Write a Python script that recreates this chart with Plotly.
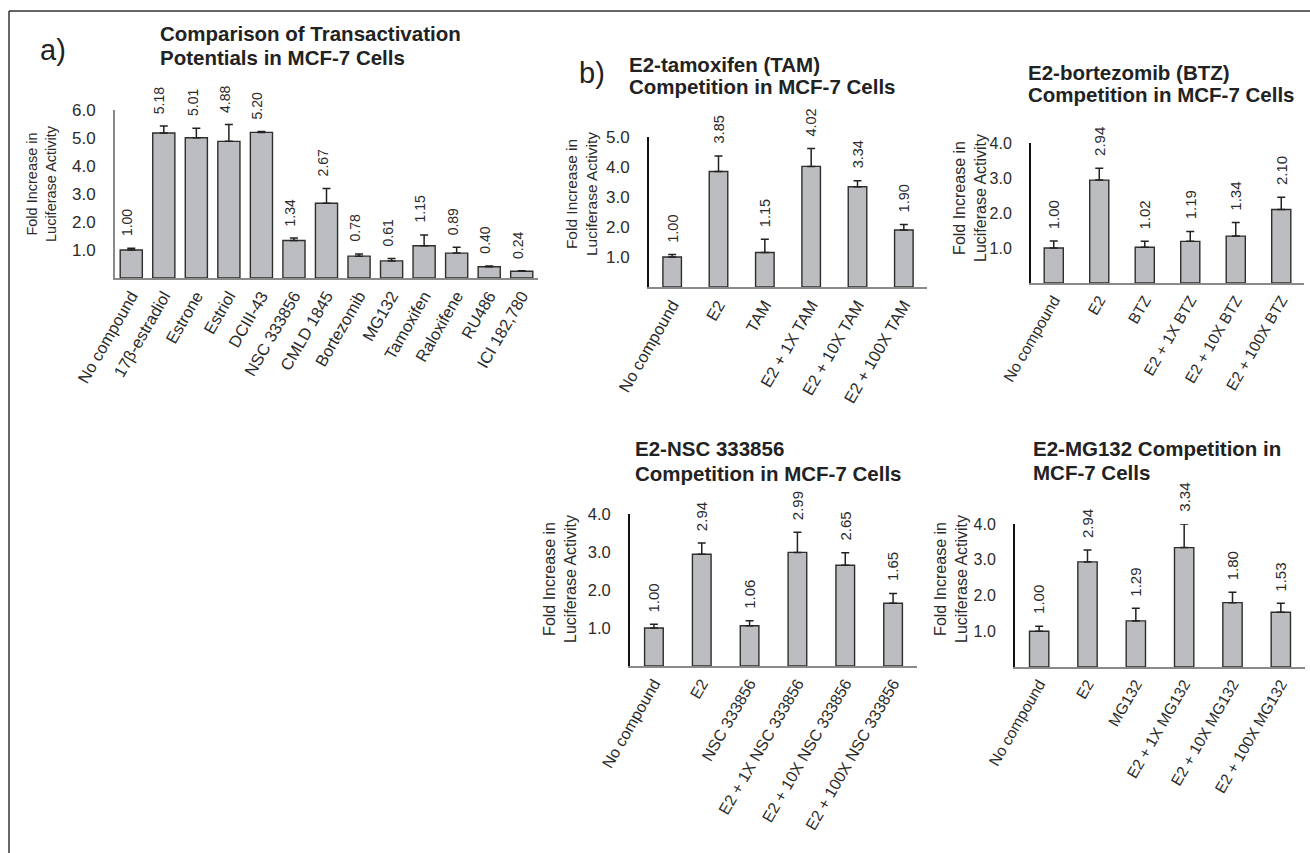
import plotly.graph_objects as go

W, H = 1310, 853
FONT = "Arial, Liberation Sans, Helvetica, sans-serif"
BAR_FILL = "#bcbdc0"
BAR_EDGE = "#2e2e2e"
TEXT = "#2b2b2b"

# ---- a) transactivation potentials ----
a_labels = ["No compound", "17β-estradiol", "Estrone", "Estriol", "DCIII-43",
            "NSC 333856", "CMLD 1845", "Bortezomib", "MG132", "Tamoxifen",
            "Raloxifene", "RU486", "ICI 182,780"]
a_values = [1.00, 5.18, 5.01, 4.88, 5.20, 1.34, 2.67, 0.78, 0.61, 1.15, 0.89, 0.40, 0.24]
a_errors = [0.06, 0.25, 0.34, 0.60, 0.03, 0.09, 0.53, 0.08, 0.09, 0.39, 0.21, 0.03, 0.02]

# ---- b) competition assays ----
tam_labels = ["No compound", "E2", "TAM", "E2 + 1X TAM", "E2 + 10X TAM", "E2 + 100X TAM"]
tam_values = [1.00, 3.85, 1.15, 4.02, 3.34, 1.90]
tam_errors = [0.08, 0.52, 0.44, 0.60, 0.20, 0.18]

btz_labels = ["No compound", "E2", "BTZ", "E2 + 1X BTZ", "E2 + 10X BTZ", "E2 + 100X BTZ"]
btz_values = [1.00, 2.94, 1.02, 1.19, 1.34, 2.10]
btz_errors = [0.20, 0.34, 0.17, 0.28, 0.39, 0.35]

nsc_labels = ["No compound", "E2", "NSC 333856", "E2 + 1X NSC 333856",
              "E2 + 10X NSC 333856", "E2 + 100X NSC 333856"]
nsc_values = [1.00, 2.94, 1.06, 2.99, 2.65, 1.65]
nsc_errors = [0.10, 0.30, 0.13, 0.53, 0.33, 0.26]

mg_labels = ["No compound", "E2", "MG132", "E2 + 1X MG132", "E2 + 10X MG132", "E2 + 100X MG132"]
mg_values = [1.00, 2.94, 1.29, 3.34, 1.80, 1.53]
mg_errors = [0.14, 0.33, 0.35, 0.66, 0.29, 0.25]


def px(x):
    return x / W


def py(y):
    return 1 - y / H


panels = [
    dict(labels=a_labels, values=a_values, errors=a_errors,
         xpx=(115, 538), ypx=(278, 110), ymax=6, width=0.68, yline="#8a8a8a",
         tick=17, val=14, val_dx=-4, ytitle=(42, 184), ytitle_size=14.5,
         title=["Comparison of Transactivation", "Potentials in MCF-7 Cells"],
         title_xy=(158, 34, 57)),
    dict(labels=tam_labels, values=tam_values, errors=tam_errors,
         xpx=(649, 927), ypx=(287, 137), ymax=5, width=0.40, yline="#111111",
         tick=17, val=14.5, val_dx=0, ytitle=(582, 194), ytitle_size=15.5,
         title=["E2-tamoxifen (TAM)", "Competition in MCF-7 Cells"],
         title_xy=(627, 64, 87)),
    dict(labels=btz_labels, values=btz_values, errors=btz_errors,
         xpx=(1031, 1304), ypx=(283, 143), ymax=4, width=0.42, yline="#111111",
         tick=16, val=15, val_dx=0, ytitle=(970, 198), ytitle_size=16,
         title=["E2-bortezomib (BTZ)", "Competition in MCF-7 Cells"],
         title_xy=(1026, 72, 95)),
    dict(labels=nsc_labels, values=nsc_values, errors=nsc_errors,
         xpx=(630, 917), ypx=(666, 514), ymax=4, width=0.39, yline="#111111",
         tick=16.5, val=15, val_dx=0, ytitle=(560, 579), ytitle_size=16,
         title=["E2-NSC 333856", "Competition in MCF-7 Cells"],
         title_xy=(633, 449, 473)),
    dict(labels=mg_labels, values=mg_values, errors=mg_errors,
         xpx=(1015, 1305), ypx=(667, 524), ymax=4, width=0.40, yline="#111111",
         tick=16, val=15, val_dx=0, ytitle=(951, 579), ytitle_size=16,
         title=["E2-MG132 Competition in", "MCF-7 Cells"],
         title_xy=(1031, 449, 472)),
]

fig = go.Figure()
annotations = []

for i, p in enumerate(panels):
    n = i + 1
    xa = "x" if n == 1 else f"x{n}"
    ya = "y" if n == 1 else f"y{n}"
    fig.add_trace(go.Bar(
        x=p["labels"], y=p["values"], xaxis=xa, yaxis=ya,
        width=p["width"],
        marker=dict(color=BAR_FILL, line=dict(color=BAR_EDGE, width=1.4)),
        error_y=dict(type="data", array=p["errors"], symmetric=False,
                     arrayminus=[0] * len(p["errors"]),
                     color="#222222", thickness=1.5, width=4),
        showlegend=False, hoverinfo="skip",
    ))
    ticks = list(range(1, p["ymax"] + 1))
    fig.layout[f"xaxis{'' if n == 1 else n}"] = dict(
        domain=[px(p["xpx"][0]), px(p["xpx"][1])], anchor=ya,
        type="category", range=[-0.5, len(p["labels"]) - 0.5],
        showline=True, linecolor="#8a8a8a", linewidth=2,
        showgrid=False, zeroline=False, ticks="", automargin=False,
        tickangle=-60, tickfont=dict(family=FONT, size=p["tick"] - 0.5, color=TEXT),
    )
    fig.layout[f"yaxis{'' if n == 1 else n}"] = dict(
        domain=[py(p["ypx"][0]), py(p["ypx"][1])], anchor=xa,
        range=[0, p["ymax"]], showline=True, linecolor=p["yline"], linewidth=2,
        showgrid=False, zeroline=False, ticks="", automargin=False,
        tickvals=ticks, ticktext=[f"{t:.1f}" for t in ticks],
        tickfont=dict(family=FONT, size=p["tick"], color=TEXT),
        ticklabelstandoff=14,
    )
    # value labels above each error bar
    for lab, v, e in zip(p["labels"], p["values"], p["errors"]):
        annotations.append(dict(
            x=lab, y=v + e, xref=xa, yref=ya, text=f"{v:.2f}", textangle=-90,
            xanchor="center", yanchor="bottom", yshift=10, xshift=p["val_dx"],
            showarrow=False, font=dict(family=FONT, size=p["val"], color=TEXT),
        ))
    # y-axis title
    annotations.append(dict(
        x=px(p["ytitle"][0]), y=py(p["ytitle"][1]), xref="paper", yref="paper",
        text="Fold Increase in<br>Luciferase Activity", textangle=-90,
        xanchor="center", yanchor="middle", showarrow=False,
        font=dict(family=FONT, size=p["ytitle_size"], color=TEXT),
    ))
    # panel heading, one annotation per line
    tx, ty1, ty2 = p["title_xy"]
    for line, ty in zip(p["title"], (ty1, ty2)):
        annotations.append(dict(
            x=px(tx), y=py(ty), xref="paper", yref="paper", text=f"<b>{line}</b>",
            xanchor="left", yanchor="middle", showarrow=False,
            font=dict(family=FONT, size=20.5, color="#222222"),
        ))

# panel letters
for letter, lx, ly in (("a)", 38, 50), ("b)", 577, 73)):
    annotations.append(dict(
        x=px(lx), y=py(ly), xref="paper", yref="paper", text=letter,
        xanchor="left", yanchor="middle", showarrow=False,
        font=dict(family=FONT, size=29, color="#222222"),
    ))

fig.update_layout(
    width=W, height=H, margin=dict(l=0, r=0, t=0, b=0, autoexpand=False),
    paper_bgcolor="white", plot_bgcolor="white",
    annotations=annotations,
    shapes=[
        dict(type="line", xref="paper", yref="paper", x0=px(9), x1=1, y0=py(11), y1=py(11),
             line=dict(color="#333333", width=1.5)),
        dict(type="line", xref="paper", yref="paper", x0=px(9), x1=px(9), y0=py(11), y1=0,
             line=dict(color="#333333", width=1.5)),
    ],
)

fig.write_html("out.html")
